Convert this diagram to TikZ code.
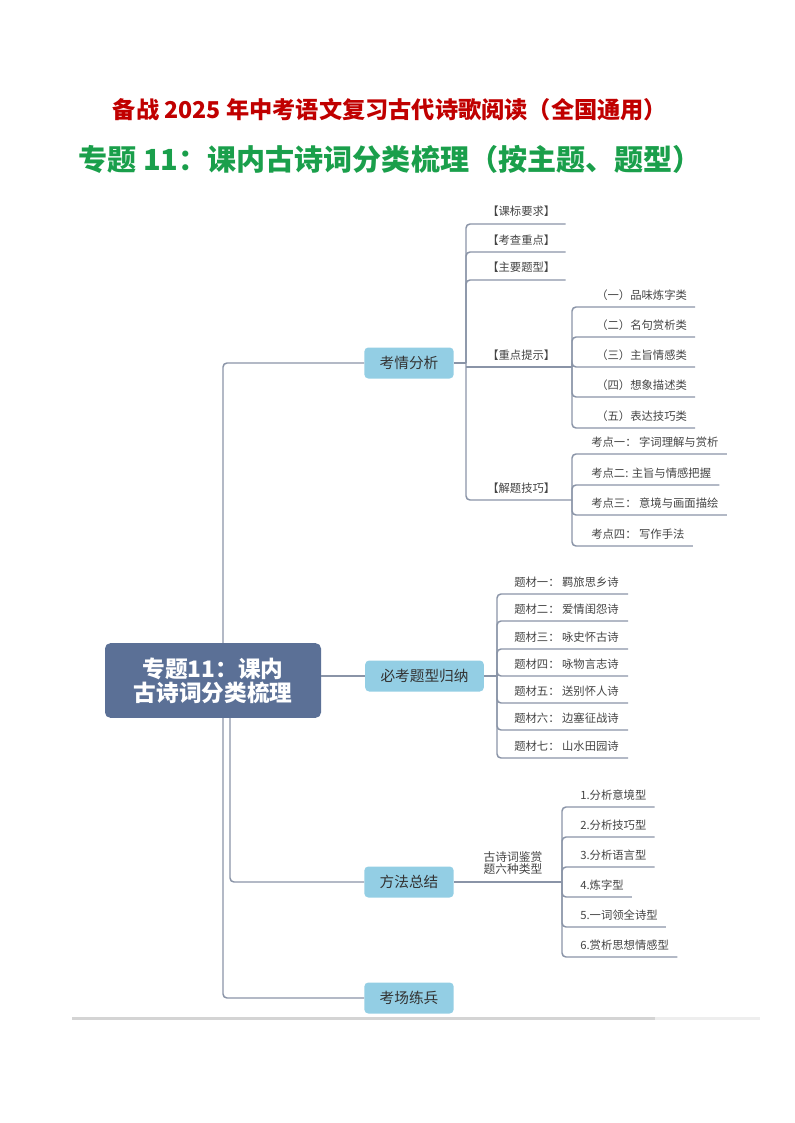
\documentclass[tikz,border=0pt]{standalone}
\usepackage{fontspec}
\setmainfont{Noto Sans CJK SC}
\usetikzlibrary{calc}
\definecolor{titlered}{HTML}{C00000}
\definecolor{titlegreen}{HTML}{1A9F4B}
\definecolor{rootblue}{HTML}{5B7096}
\definecolor{boxblue}{HTML}{93CEE4}
\definecolor{linegrey}{HTML}{8A94A7}
\definecolor{leaftext}{HTML}{444444}
\definecolor{topictext}{HTML}{333333}
\definecolor{bargrey}{HTML}{D4D4D4}
\definecolor{barlight}{HTML}{EEEEEE}
\begin{document}
\begin{tikzpicture}[x=0.75pt, y=-0.75pt,
    link/.style={draw=linegrey, line width=1.1pt, rounded corners=3pt},
    topic/.style={fill=boxblue, rounded corners=3pt, text=topictext, font=\fontsize{11}{13}\selectfont, inner xsep=11.5pt, minimum height=23.25pt},
    leaf/.style={anchor=south west, text=leaftext, font=\fontsize{8.5}{10}\selectfont, inner xsep=0pt, inner ysep=4.8pt, text height=7pt, text depth=1pt}]
    \useasboundingbox (0,0) rectangle (794,1123);
    % titles
    \node[font=\bfseries\fontsize{17.4}{20}\selectfont, text=titlered] (title) at (390,110) {备战 2025 年中考语文复习古代诗歌阅读（全国通用）};
    \node[font=\bfseries\fontsize{21.8}{24}\selectfont, text=titlegreen] (subtitle) at (390,159) {专题 11：课内古诗词分类梳理（按主题、题型）};
    % root
    \node[fill=rootblue, rounded corners=4pt, text=white, font=\bfseries\fontsize{17}{18}\selectfont, align=center, minimum width=162pt, minimum height=56pt] (root) at (213,680.5) {专题11：课内\\古诗词分类梳理};
    \node[topic] (kq) at (409,363) {考情分析};
    \node[topic] (bk) at (424.5,676) {必考题型归纳};
    \node[topic] (ff) at (409,882) {方法总结};
    \node[topic] (kc) at (409,998) {考场练兵};
    \draw[link] ($(root.north)+(10,0)$) |- (kq.west);
    \draw[link] (root.east |- bk.west) -- (bk.west);
    \draw[link] ($(root.south)+(17,0)$) |- (ff.west);
    \draw[link] ($(root.south)+(10,0)$) |- (kc.west);
    % 考情分析
    \coordinate (kq-fork) at (466,363);
    \node[leaf] (kq1) at (487,224) {【课标要求】};
    \node[leaf] (kq2) at (487,252) {【考查重点】};
    \node[leaf] (kq3) at (487,280) {【主要题型】};
    \node[leaf] (kq4) at (487,367) {【重点提示】};
    \node[leaf] (kq5) at (487,500) {【解题技巧】};
    \coordinate (ts-fork) at (572,367);
    \coordinate (jt-fork) at (572,500);
    \draw[link] (kq.east) -- (kq-fork);
    \foreach \n in {kq1,kq2,kq3}
        \draw[link] (kq-fork) |- ($(\n.south east)+(10,0)$);
    \draw[link] (kq-fork |- ts-fork) -- (ts-fork);
    \draw[link] (kq-fork) |- (jt-fork);
    % 重点提示
    \node[leaf] (ts1) at (596,307) {（一）品味炼字类};
    \node[leaf] (ts2) at (596,337) {（二）名句赏析类};
    \node[leaf] (ts3) at (596,367) {（三）主旨情感类};
    \node[leaf] (ts4) at (596,397) {（四）想象描述类};
    \node[leaf] (ts5) at (596,428) {（五）表达技巧类};
    \foreach \n in {ts1,ts2,ts3,ts4,ts5}
        \draw[link] (ts-fork) |- ($(\n.south east)+(8,0)$);
    % 解题技巧
    \node[leaf] (jt1) at (591,454) {考点一： 字词理解与赏析};
    \node[leaf] (jt2) at (591,485) {考点二: 主旨与情感把握};
    \node[leaf] (jt3) at (591,515) {考点三： 意境与画面描绘};
    \node[leaf] (jt4) at (591,546) {考点四： 写作手法};
    \foreach \n in {jt1,jt2,jt3,jt4}
        \draw[link] (jt-fork) |- ($(\n.south east)+(8,0)$);
    % 必考题型归纳
    \coordinate (bk-fork) at (497,676);
    \node[leaf] (bk1) at (514,594) {题材一： 羁旅思乡诗};
    \node[leaf] (bk2) at (514,621) {题材二： 爱情闺怨诗};
    \node[leaf] (bk3) at (514,649) {题材三： 咏史怀古诗};
    \node[leaf] (bk4) at (514,676) {题材四： 咏物言志诗};
    \node[leaf] (bk5) at (514,703) {题材五： 送别怀人诗};
    \node[leaf] (bk6) at (514,730) {题材六： 边塞征战诗};
    \node[leaf] (bk7) at (514,758) {题材七： 山水田园诗};
    \draw[link] (bk.east) -- (bk-fork);
    \foreach \n in {bk1,bk2,bk3,bk4,bk5,bk6,bk7}
        \draw[link] (bk-fork) |- ($(\n.south east)+(9,0)$);
    % 方法总结
    \coordinate (ff-fork) at (562,882);
    \node[text=leaftext, font=\fontsize{8.8}{9}\selectfont, align=center] (ff-label) at (513,863) {古诗词鉴赏\\题六种类型};
    \node[leaf] (ff1) at (580,807) {1.分析意境型};
    \node[leaf] (ff2) at (580,837) {2.分析技巧型};
    \node[leaf] (ff3) at (580,867) {3.分析语言型};
    \node[leaf] (ff4) at (580,897) {4.炼字型};
    \node[leaf] (ff5) at (580,927) {5.一词领全诗型};
    \node[leaf] (ff6) at (580,957) {6.赏析思想情感型};
    \draw[link] (ff.east) -- (ff-fork);
    \foreach \n in {ff1,ff2,ff3,ff4,ff5,ff6}
        \draw[link] (ff-fork) |- ($(\n.south east)+(8,0)$);
    % bottom bar
    \fill[bargrey] (72,1016.5) rectangle (655,1019.5);
    \fill[barlight] (655,1016.5) rectangle (760,1019.5);
\end{tikzpicture}
\end{document}
